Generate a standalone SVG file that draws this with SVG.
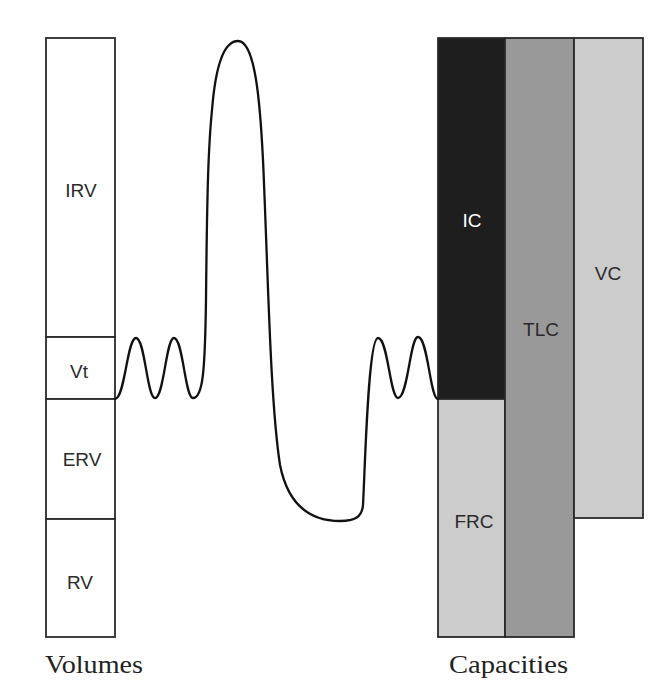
<svg xmlns="http://www.w3.org/2000/svg" width="664" height="694" viewBox="0 0 664 694">
<style>
.box{stroke:#2a2a2a;stroke-width:1.8}
.lbl{font-family:"Liberation Sans",Arial,sans-serif;font-size:19px;text-anchor:middle;fill:#2a2a2a}
.ttl{font-family:"Liberation Serif","Times New Roman",serif;font-size:26px;fill:#222}
.curve{fill:none;stroke:#111;stroke-width:2.3;stroke-linejoin:round;stroke-linecap:round}
</style>
<rect width="664" height="694" fill="#fff"/>
<g id="volumes">
<g id="IRV"><rect class="box" x="46" y="38" width="69" height="299" fill="#fff"/><text class="lbl" x="81" y="197">IRV</text></g>
<g id="Vt"><rect class="box" x="46" y="337" width="69" height="62" fill="#fff"/><text class="lbl" x="79" y="378">Vt</text></g>
<g id="ERV"><rect class="box" x="46" y="399" width="69" height="120" fill="#fff"/><text class="lbl" x="82" y="466">ERV</text></g>
<g id="RV"><rect class="box" x="46" y="519" width="69" height="118" fill="#fff"/><text class="lbl" x="80" y="589">RV</text></g>
<text class="ttl" x="45" y="673" textLength="98" lengthAdjust="spacingAndGlyphs">Volumes</text>
</g>
<g id="capacities">
<g id="IC"><rect class="box" x="438" y="38" width="67" height="361" fill="#1e1e1e"/><text class="lbl" x="472" y="227" style="fill:#fff">IC</text></g>
<g id="FRC"><rect class="box" x="438" y="399" width="67" height="238" fill="#cccccc"/><text class="lbl" x="474" y="528">FRC</text></g>
<g id="TLC"><rect class="box" x="505" y="38" width="69" height="599" fill="#999999"/><text class="lbl" x="541" y="336">TLC</text></g>
<g id="VC"><rect class="box" x="574" y="38" width="69" height="480" fill="#cccccc"/><text class="lbl" x="608" y="280">VC</text></g>
<text class="ttl" x="449" y="673" textLength="119" lengthAdjust="spacingAndGlyphs">Capacities</text>
</g>
<g id="connectors">
<path class="curve" d="M115,399 C125,399 127,338 136,338 C145,338 147,398 155,398 C164,398 166,338 174,338 C183,338 185,398 193,398 C203,398 205,370 206,300 C207,200 208,150 212,110 C216,60 226,41 238,41 C255,41 260,100 263,160 C268,270 270,400 280,465 C288,505 310,521 340,521 C355,521 362,517 363,505 C365,470 368,338 378,338 C388,338 390,398 398,398 C408,398 410,337 418,337 C428,337 430,399 438,399"/>
</g>
</svg>
